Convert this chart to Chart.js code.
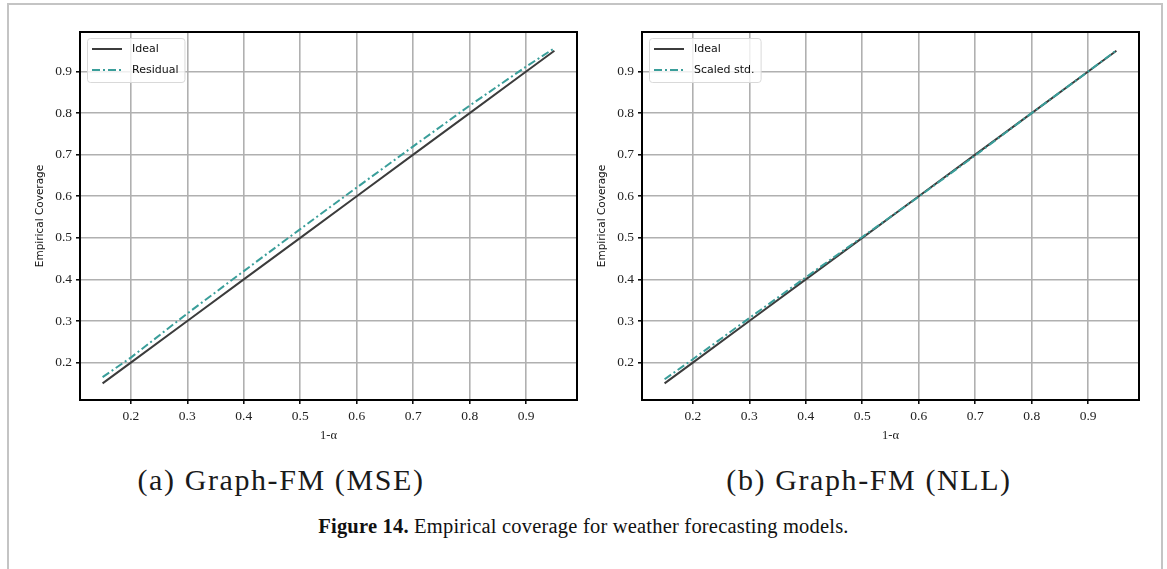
<!DOCTYPE html>
<html>
<head>
<meta charset="utf-8">
<script src="https://cdn.jsdelivr.net/npm/chart.js@4.4.1/dist/chart.umd.min.js"></script>
<style>
  body { margin:0; width:1167px; height:569px; background:#fff; overflow:hidden; position:relative; }
  .frame { position:absolute; left:7px; top:3px; width:1156px; height:620px; border:2px solid #c4c4c4; box-sizing:border-box; }
  .plot { position:absolute; top:0; width:590px; height:460px; }
  .sub { position:absolute; top:463px; font-family:"Liberation Serif", serif; font-size:30px; letter-spacing:1.6px; color:#1a1a1a; white-space:nowrap; transform:translateX(-50%); }
  .cap { position:absolute; top:515px; left:0; width:1167px; text-align:center; font-family:"Liberation Serif", serif; font-size:20.5px; letter-spacing:0.2px; color:#111; }
</style>
</head>
<body>
<div class="frame"></div>
<div class="plot" style="left:0"><canvas id="c1" width="590" height="460"></canvas></div>
<div class="plot" style="left:562px"><canvas id="c2" width="590" height="460"></canvas></div>
<div class="sub" style="left:281px">(a) Graph-FM (MSE)</div>
<div class="sub" style="left:869px">(b) Graph-FM (NLL)</div>
<div class="cap"><b>Figure 14.</b> Empirical coverage for weather forecasting models.</div>
<script>
// confidence levels 1-alpha
var levels = [0.15, 0.2, 0.3, 0.4, 0.5, 0.6, 0.7, 0.8, 0.9, 0.95];
var ideal = [0.15, 0.2, 0.3, 0.4, 0.5, 0.6, 0.7, 0.8, 0.9, 0.95];
// Graph-FM (MSE) residual coverage
var residual = [0.165, 0.212, 0.318, 0.42, 0.521, 0.621, 0.72, 0.818, 0.912, 0.956];
// Graph-FM (NLL) scaled std coverage
var scaledStd = [0.16, 0.208, 0.307, 0.405, 0.502, 0.599, 0.698, 0.8, 0.9, 0.951];
var xTicks = [0.2, 0.3, 0.4, 0.5, 0.6, 0.7, 0.8, 0.9];
var yTicks = [0.2, 0.3, 0.4, 0.5, 0.6, 0.7, 0.8, 0.9];

var tealColor = '#3a9e9a';
var idealColor = '#3c3c3c';

function pts(ys){
	return levels.map(function(x, i){ return {x: x, y: ys[i]}; });
}

// frame around the axes + matplotlib style legend in upper left
var boxPlugin = {
	id: 'boxPlugin',
	afterDraw: function(chart){
		var ctx = chart.ctx, a = chart.chartArea;
		var sets = chart.data.datasets;
		ctx.save();
		ctx.font = '11px "DejaVu Sans"';
		var tw = 0;
		for(var i = 0; i < sets.length; i++){
			tw = Math.max(tw, ctx.measureText(sets[i].label).width);
		}
		var bx = a.left + 7, by = a.top + 6, bw = 45 + tw + 6, bh = 44;
		ctx.beginPath();
		ctx.roundRect(bx + 0.5, by + 0.5, bw, bh, 3);
		ctx.fillStyle = 'rgba(255,255,255,0.8)';
		ctx.fill();
		ctx.strokeStyle = '#d9d9d9';
		ctx.lineWidth = 1;
		ctx.stroke();
		for(var i = 0; i < sets.length; i++){
			var y = by + 11 + i * 21;
			ctx.beginPath();
			ctx.setLineDash(sets[i].borderDash || []);
			ctx.strokeStyle = sets[i].borderColor;
			ctx.lineWidth = sets[i].borderWidth;
			ctx.moveTo(bx + 5, y);
			ctx.lineTo(bx + 35, y);
			ctx.stroke();
			ctx.setLineDash([]);
			ctx.fillStyle = '#111';
			ctx.textBaseline = 'middle';
			ctx.fillText(sets[i].label, bx + 45, y + 0.5);
		}
		ctx.strokeStyle = '#000';
		ctx.lineWidth = 2;
		ctx.strokeRect(a.left, a.top, a.right - a.left, a.bottom - a.top);
		ctx.restore();
	}
};

function makeChart(id, label, values){
	var ctx = document.getElementById(id);
	return new Chart(ctx, {
		type: 'scatter',
		data: {
			datasets: [{
				label: 'Ideal',
				data: pts(ideal),
				showLine: true,
				borderColor: idealColor,
				borderWidth: 2,
				pointRadius: 0,
				order: 2
			}, {
				label: label,
				data: pts(values),
				showLine: true,
				borderColor: tealColor,
				borderWidth: 2,
				borderDash: [8, 3, 2, 3],
				pointRadius: 0,
				order: 1
			}]
		},
		options: {
			responsive: false,
			animation: false,
			devicePixelRatio: 1,
			layout: { padding: { top: 32, right: 13, left: 0, bottom: 0 } },
			plugins: { legend: { display: false }, tooltip: { enabled: false } },
			scales: {
				x: {
					type: 'linear',
					min: 0.11, max: 0.99,
					afterBuildTicks: function(s){ s.ticks = xTicks.map(function(v){ return {value: v}; }); },
					afterFit: function(s){ s.height = 60; },
					border: { display: false },
					grid: { color: '#b0b0b0', lineWidth: 1.6, tickColor: '#000', tickWidth: 1.5, tickLength: 4 },
					ticks: {
						padding: 4,
						color: '#222',
						font: { family: 'Liberation Serif', size: 13.5 },
						callback: function(v){ return v.toFixed(1); }
					},
					title: {
						display: true,
						text: '1-α',
						color: '#222',
						font: { family: 'Liberation Serif', size: 12.5 },
						padding: { top: 0, bottom: 17 }
					}
				},
				y: {
					type: 'linear',
					min: 0.11, max: 0.995,
					afterBuildTicks: function(s){ s.ticks = yTicks.map(function(v){ return {value: v}; }); },
					afterFit: function(s){ s.width = 80; },
					border: { display: false },
					grid: { color: '#b0b0b0', lineWidth: 1.6, tickColor: '#000', tickWidth: 1.5, tickLength: 4 },
					ticks: {
						padding: 4,
						color: '#222',
						font: { family: 'Liberation Serif', size: 13.5 },
						callback: function(v){ return v.toFixed(1); }
					},
					title: {
						display: true,
						text: 'Empirical Coverage',
						color: '#111',
						font: { family: 'DejaVu Sans', size: 10.5 },
						padding: { top: 34, bottom: 0 }
					}
				}
			}
		},
		plugins: [boxPlugin]
	});
}

makeChart('c1', 'Residual', residual);
makeChart('c2', 'Scaled std.', scaledStd);
</script>
</body>
</html>
